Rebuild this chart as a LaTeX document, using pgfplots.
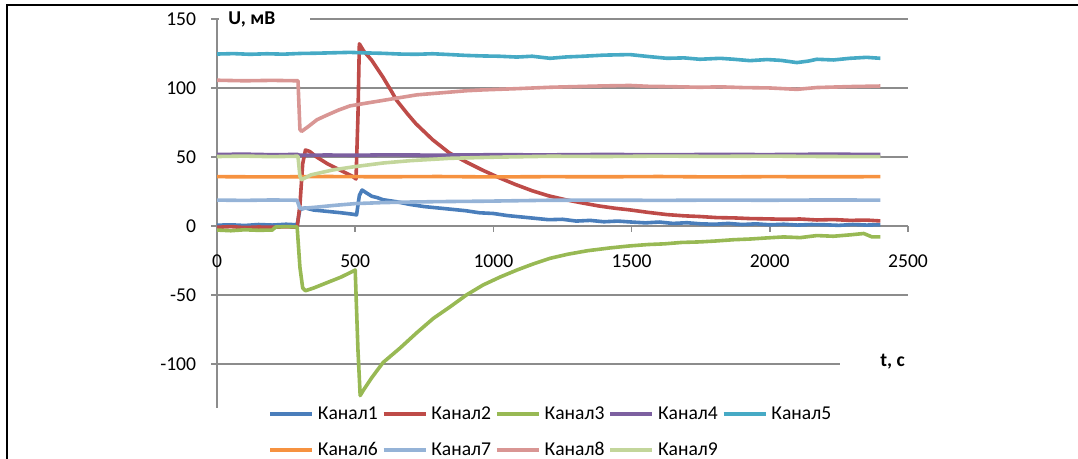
\documentclass[border=0pt]{standalone}
\usepackage{fontspec}
\setmainfont{Carlito}
\usepackage{pgfplots}
\pgfplotsset{compat=1.18}

\definecolor{k1}{HTML}{4A7EBB}
\definecolor{k2}{HTML}{BE4B48}
\definecolor{k3}{HTML}{98B954}
\definecolor{k4}{HTML}{7D60A0}
\definecolor{k5}{HTML}{46AAC5}
\definecolor{k6}{HTML}{F69240}
\definecolor{k7}{HTML}{95B3D7}
\definecolor{k8}{HTML}{D99694}
\definecolor{k9}{HTML}{C3D69B}
\definecolor{axgray}{HTML}{8C8C8C}

\begin{document}
\fontsize{9.8}{11.8}\selectfont
\begin{tikzpicture}
\path[use as bounding box] (0,0) rectangle (539pt,229.5pt);
\begin{axis}[
    at={(108.5pt,25.5pt)}, anchor=south west,
    scale only axis, width=345.5pt, height=194.5pt,
    xmin=0, xmax=2500, ymin=-132, ymax=150,
    axis x line=middle, axis y line=left,
    axis line style={-, draw=axgray, line width=0.8pt},
    xtick={0,500,...,2500}, ytick={-100,-50,...,150},
    hide obscured x ticks=false, hide obscured y ticks=false,
    tick align=outside, major tick length=3pt,
    tick style={draw=axgray, line width=0.8pt},
    ymajorgrids, major grid style={draw=axgray, line width=0.8pt},
    /pgf/number format/assume math mode=true,
    /pgf/number format/1000 sep={},
    xticklabel style={yshift=-8pt},
    yticklabel style={xshift=-4pt},
    every axis plot/.append style={line width=1.8pt, line join=round},
    legend columns=5,
    legend style={draw=none, fill=none, inner sep=0pt,
        at={(0.0738,0)}, anchor=north west, yshift=3pt,
        row sep=6pt,
        /tikz/every even column/.append style={column sep=0pt}},
    legend image code/.code={\draw[#1] (0pt,0pt) -- (21pt,0pt);},
]
% Канал1
\addplot[k1] coordinates {(0,0.5)(50,0.8)(100,0.3)(150,1)(200,0.6)(250,1.2)(290,0.8)(300,12)(320,13)(350,11.5)(400,10.5)(450,9.5)(490,8.5)(505,8)(515,22)(525,26)(540,24)(560,21.5)(580,20.5)(600,19)(650,17.5)(700,15.5)(750,14)(800,13)(850,12)(900,11)(950,9.5)(1000,9)(1050,7.5)(1100,6.5)(1150,5.5)(1200,4.5)(1250,4.8)(1300,3.5)(1350,4)(1400,3)(1450,3.5)(1500,2.8)(1550,2.2)(1600,2.8)(1650,1.8)(1700,2.3)(1750,1.5)(1800,1.2)(1850,1.8)(1900,1)(1950,1.5)(2000,0.8)(2050,1.2)(2100,0.6)(2150,1)(2200,0.8)(2250,0.4)(2300,1)(2350,0.6)(2400,0.8)};
% Канал2
\addplot[k2] coordinates {(0,-1)(50,-0.5)(100,-1.2)(150,-0.8)(200,-1)(250,-0.6)(290,-1)(300,15)(310,45)(320,55)(335,54)(360,50)(400,45)(450,40)(490,36)(503,34)(510,80)(515,132)(530,127)(560,120)(600,108)(630,98)(650,91)(690,81)(720,74)(780,62.5)(840,53)(900,46.5)(960,40.5)(1020,35)(1080,30)(1140,25.5)(1200,21.8)(1260,19)(1325,16.5)(1380,14.5)(1440,12.8)(1494,11.6)(1560,9.8)(1628,8.2)(1690,7.3)(1747,6.8)(1810,6)(1870,5.8)(1930,5.3)(1990,5.1)(2050,4.8)(2110,5)(2170,4.3)(2230,4.6)(2290,4)(2350,4.2)(2400,3.6)};
% Канал3
\addplot[k3] coordinates {(0,-3)(50,-3.5)(100,-2.8)(150,-3.2)(200,-3)(212,-0.8)(250,-0.5)(290,-0.8)(300,-30)(310,-45)(320,-47)(350,-45)(400,-41)(450,-37)(500,-32)(510,-90)(518,-123)(530,-119)(560,-110)(601,-99)(662,-88.6)(723,-77.4)(783,-67)(843,-58.7)(903,-50)(963,-42.8)(1025,-37)(1085,-32)(1145,-27.5)(1205,-23.5)(1270,-20.5)(1340,-18)(1420,-16)(1494,-14.5)(1560,-13.5)(1620,-13)(1680,-12)(1747,-11.6)(1800,-11)(1870,-10)(1930,-9.5)(1990,-8.7)(2050,-8)(2110,-8.5)(2170,-7)(2230,-7.5)(2290,-6.5)(2340,-5.5)(2370,-8)(2400,-8)};
% Канал4
\addplot[k4] coordinates {(0,51.8)(100,52)(200,51.6)(290,51.8)(300,51.2)(400,51.4)(500,51.2)(600,51.5)(800,51.3)(1000,51.6)(1200,51.5)(1400,51.8)(1600,51.6)(1800,51.8)(2000,51.7)(2200,52)(2400,51.8)};
% Канал5
\addplot[k5] coordinates {(0,124.6)(60,124.9)(120,124.4)(180,124.8)(240,124.5)(300,125)(360,125.2)(420,125.5)(481,125.8)(540,125.4)(601,125.1)(660,124.6)(720,124.4)(780,124.8)(843,124.2)(900,123.6)(963,123.2)(1020,123)(1085,122.4)(1140,123)(1205,121.5)(1265,122.5)(1325,123)(1400,123.8)(1494,124.2)(1560,122.8)(1628,121.5)(1690,121.8)(1747,120.8)(1820,121.5)(1870,120.8)(1928,119.8)(1990,120.6)(2040,120)(2098,118.4)(2140,119.5)(2170,120.8)(2230,120.3)(2290,121.5)(2350,122.2)(2400,121.5)};
% Канал6
\addplot[k6] coordinates {(0,35.7)(200,35.5)(400,35.8)(600,35.6)(800,35.8)(1000,35.5)(1200,35.7)(1400,35.6)(1600,35.8)(1800,35.5)(2000,35.7)(2200,35.6)(2400,35.7)};
% Канал7
\addplot[k7] coordinates {(0,18.7)(100,18.5)(200,18.8)(290,18.6)(300,12.5)(312,12.8)(360,13.6)(420,14.8)(503,16.2)(601,16.9)(700,17.3)(800,17.6)(900,17.8)(963,17.9)(1100,18.3)(1205,18.6)(1400,18.7)(1600,18.5)(1800,18.7)(2000,18.6)(2200,18.8)(2400,18.7)};
% Канал8
\addplot[k8] coordinates {(0,105.6)(100,105.2)(200,105.5)(293,105.2)(300,70)(306,68.5)(330,72)(362,77)(400,80.5)(440,84)(481,87)(540,89)(601,91)(662,93)(723,95)(783,96)(843,97)(903,98)(963,98.6)(1085,99.5)(1205,100.5)(1300,101)(1400,101.5)(1494,101.8)(1560,101.2)(1628,101)(1747,100.5)(1820,100.8)(1900,100.3)(2000,100)(2098,99)(2170,100.3)(2290,101)(2400,101.4)};
% Канал9
\addplot[k9] coordinates {(0,50.3)(100,50.6)(200,50.2)(293,50.5)(300,36)(306,33.5)(340,37)(420,40.6)(500,43)(601,45.6)(700,47.3)(843,49)(1000,49.8)(1205,50.5)(1400,50.3)(1600,50.6)(1800,50.4)(2000,50.6)(2200,50.3)(2400,50.2)};
\legend{Канал1,Канал2,Канал3,Канал4,Канал5,Канал6,Канал7,Канал8,Канал9}
\end{axis}
% axis titles on white boxes
\fill[white] (109.6pt,216pt) rectangle (155pt,224pt);
\node[anchor=west, inner sep=0pt] at (114pt,220pt) {\bfseries U, мВ};
\fill[white] (420pt,44pt) rectangle (458pt,52pt);
\node[anchor=west, inner sep=0pt] at (440pt,48.5pt) {\bfseries t, c};
% frame
\draw[line width=1pt] (3.7pt,0pt) -- (3.7pt,226.8pt) -- (539pt,226.8pt);
\end{tikzpicture}
\end{document}
